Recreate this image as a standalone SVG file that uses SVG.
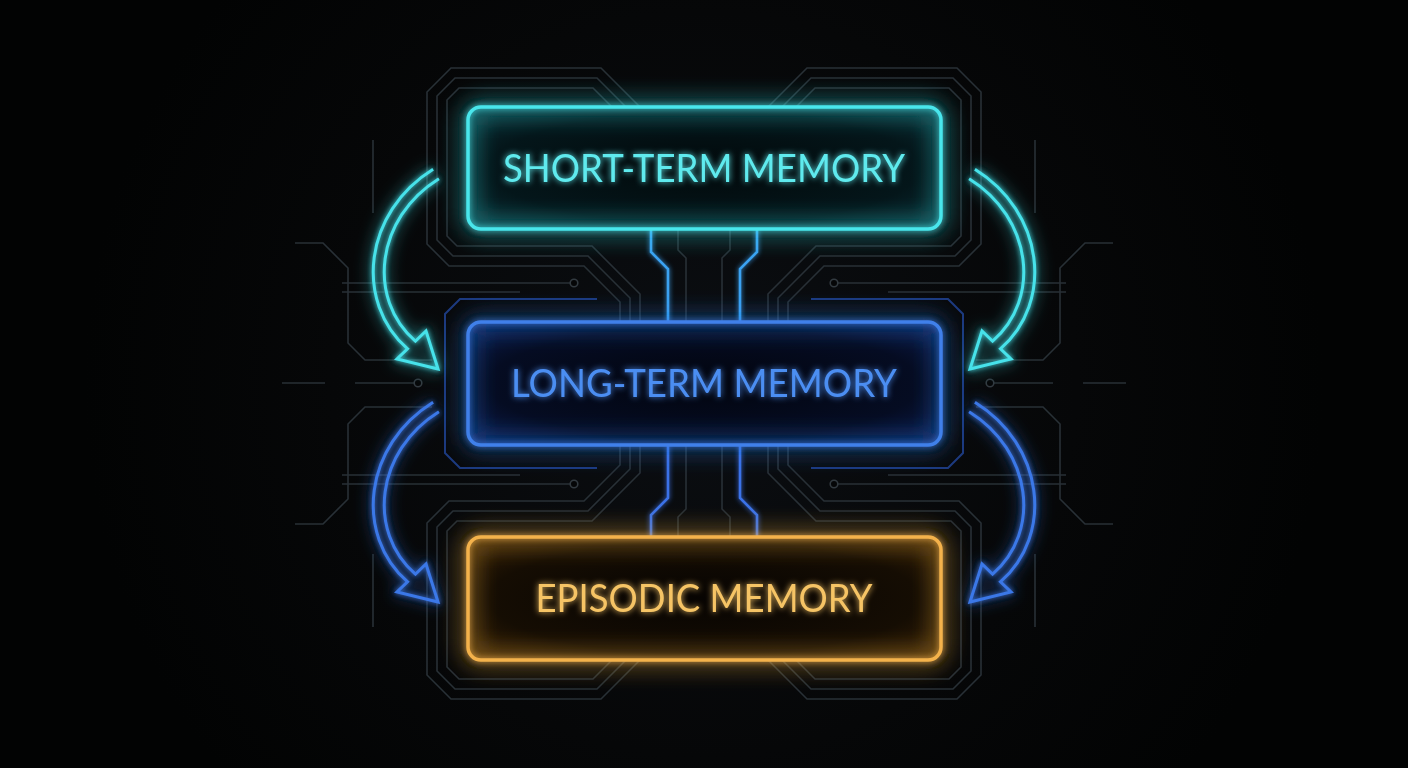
<svg xmlns="http://www.w3.org/2000/svg" xmlns:xlink="http://www.w3.org/1999/xlink" width="1408" height="768" viewBox="0 0 1408 768">
  <style>
    .trace { fill: none; stroke: #283036; stroke-width: 1.6; stroke-linejoin: miter; }
    .node-dot { fill: #050607; stroke: #323a40; stroke-width: 1.6; }
    .frame { fill: none; stroke: #1c3a7e; stroke-width: 2; }
    .label { font-family: Lato, "Noto Sans", "Liberation Sans", sans-serif; font-size: 39px; text-anchor: middle; letter-spacing: 0; }
    .link { fill: none; stroke-width: 2.6; }
  </style>
  <defs>
    <radialGradient id="bg" cx="704" cy="384" r="620" gradientUnits="userSpaceOnUse">
      <stop offset="0" stop-color="#0b0e12"/>
      <stop offset="0.6" stop-color="#060708"/>
      <stop offset="1" stop-color="#020303"/>
    </radialGradient>
    <radialGradient id="fillTop" cx="0.5" cy="0.5" r="0.7">
      <stop offset="0" stop-color="#02090b"/>
      <stop offset="0.65" stop-color="#04161a"/>
      <stop offset="1" stop-color="#0b3339"/>
    </radialGradient>
    <radialGradient id="fillMid" cx="0.5" cy="0.5" r="0.7">
      <stop offset="0" stop-color="#02050f"/>
      <stop offset="0.65" stop-color="#050c22"/>
      <stop offset="1" stop-color="#0c1f52"/>
    </radialGradient>
    <radialGradient id="fillBot" cx="0.5" cy="0.5" r="0.7">
      <stop offset="0" stop-color="#070402"/>
      <stop offset="0.65" stop-color="#150d03"/>
      <stop offset="1" stop-color="#3a2406"/>
    </radialGradient>
    <filter id="glowBox" x="-20%" y="-60%" width="140%" height="220%">
      <feGaussianBlur in="SourceGraphic" stdDeviation="3" result="b1"/>
      <feGaussianBlur in="SourceGraphic" stdDeviation="12" result="b2"/>
      <feMerge><feMergeNode in="b2"/><feMergeNode in="b2"/><feMergeNode in="b1"/><feMergeNode in="SourceGraphic"/></feMerge>
    </filter>
    <filter id="glowArrow" x="-60%" y="-25%" width="220%" height="150%">
      <feGaussianBlur in="SourceGraphic" stdDeviation="2.5" result="b1"/>
      <feGaussianBlur in="SourceGraphic" stdDeviation="8" result="b2"/>
      <feMerge><feMergeNode in="b2"/><feMergeNode in="b1"/><feMergeNode in="SourceGraphic"/></feMerge>
    </filter>
    <filter id="glowText" x="-10%" y="-50%" width="120%" height="200%">
      <feGaussianBlur in="SourceGraphic" stdDeviation="3" result="b1"/>
      <feMerge><feMergeNode in="b1"/><feMergeNode in="SourceGraphic"/></feMerge>
    </filter>
    <filter id="glowLink" x="-300%" y="-10%" width="700%" height="120%">
      <feGaussianBlur in="SourceGraphic" stdDeviation="2.5" result="b1"/>
      <feMerge><feMergeNode in="b1"/><feMergeNode in="SourceGraphic"/></feMerge>
    </filter>
    <mask id="arrowMask" maskUnits="userSpaceOnUse" x="300" y="140" width="180" height="260">
      <rect x="300" y="140" width="180" height="260" fill="#fff"/>
      <path d="M439.4,171.9 L436,174 C370,215 360,300 411.5,345 L415,348" fill="none" stroke="#000" stroke-width="8"/>
    </mask>
    <g id="arrowShape" fill="none" stroke="currentColor">
      <g mask="url(#arrowMask)">
        <polygon points="438,369 397,359 426,331" stroke-width="3" stroke-linejoin="miter"/>
        <path d="M436,174 C370,215 360,300 411.5,345" stroke-width="14"/>
      </g>
    </g>
    <g id="quad">
      <path class="trace" d="M640,107 L601,68 L451,68 L427,92 L427,244 L449,266 L584,266 L620,302 L620,322"/>
      <path class="trace" d="M626,107 L597,78 L455,78 L437,96 L437,240 L453,256 L588,256 L630,298 L630,322"/>
      <path class="trace" d="M612,107 L593,88 L459,88 L447,100 L447,236 L457,246 L592,246 L640,294 L640,322"/>
      <path class="trace" d="M295,243 L323,243 L348,268 L348,343 L365,360 L432,360"/>
      <path class="trace" d="M373,140 L373,213"/>
      <path class="trace" d="M342,283 L570,283"/>
      <circle class="node-dot" cx="574" cy="283" r="3.8"/>
      <path class="trace" d="M342,292 L520,292"/>
      <path class="trace" d="M678,229 L678,250 L686,258 L686,322"/>
    </g>
    <g id="half">
      <path class="trace" d="M282,383 L325,383"/>
      <path class="trace" d="M355,383 L414,383"/>
      <circle class="node-dot" cx="418" cy="383" r="3.8"/>
      <path class="frame" d="M597,299 L460,299 L445,314 L445,453 L460,468 L597,468"/>
    </g>
  </defs>

  <rect x="0" y="0" width="1408" height="768" fill="url(#bg)"/>

  <g id="background-traces">
    <use href="#quad"/>
    <use href="#quad" transform="translate(1408,0) scale(-1,1)"/>
    <use href="#quad" transform="translate(0,767) scale(1,-1)"/>
    <use href="#quad" transform="translate(1408,767) scale(-1,-1)"/>
    <use href="#half"/>
    <use href="#half" transform="translate(1408,0) scale(-1,1)"/>
  </g>

  <g id="connectors">
    <g filter="url(#glowLink)">
      <path class="link" stroke="#3aa2f2" d="M651,229 L651,252 L668,269 L668,322"/>
      <path class="link" stroke="#3aa2f2" d="M757,229 L757,252 L740,269 L740,322"/>
      <path class="link" stroke="#3b72e8" d="M668,445 L668,498 L651,515 L651,538"/>
      <path class="link" stroke="#3b72e8" d="M740,445 L740,498 L757,515 L757,538"/>
    </g>
    <use href="#arrowShape" style="color:#46e2ea" filter="url(#glowArrow)"/>
    <use href="#arrowShape" style="color:#46e2ea" filter="url(#glowArrow)" transform="translate(1408,0) scale(-1,1)"/>
    <use href="#arrowShape" style="color:#3b78e8" filter="url(#glowArrow)" transform="translate(0,233)"/>
    <use href="#arrowShape" style="color:#3b78e8" filter="url(#glowArrow)" transform="translate(1408,233) scale(-1,1)"/>
  </g>

  <g id="node-short-term-memory">
    <rect x="468" y="107" width="473" height="122" rx="13" fill="url(#fillTop)"/>
    <rect x="468" y="107" width="473" height="122" rx="13" fill="none" stroke="#48e6ec" stroke-width="3.5" filter="url(#glowBox)"/>
    <text class="label" x="704" y="182" fill="#5eeaee" textLength="402" lengthAdjust="spacingAndGlyphs" filter="url(#glowText)">SHORT-TERM MEMORY</text>
  </g>

  <g id="node-long-term-memory">
    <rect x="468" y="322" width="473" height="123" rx="13" fill="url(#fillMid)"/>
    <rect x="468" y="322" width="473" height="123" rx="13" fill="none" stroke="#3f80ea" stroke-width="3.5" filter="url(#glowBox)"/>
    <text class="label" x="704" y="397" fill="#4c8ef2" textLength="386" lengthAdjust="spacingAndGlyphs" filter="url(#glowText)">LONG-TERM MEMORY</text>
  </g>

  <g id="node-episodic-memory">
    <rect x="468" y="537" width="473" height="123" rx="13" fill="url(#fillBot)"/>
    <rect x="468" y="537" width="473" height="123" rx="13" fill="none" stroke="#f4b24c" stroke-width="3.5" filter="url(#glowBox)"/>
    <text class="label" x="704" y="612" fill="#f6c465" textLength="337" lengthAdjust="spacingAndGlyphs" filter="url(#glowText)">EPISODIC MEMORY</text>
  </g>
</svg>
